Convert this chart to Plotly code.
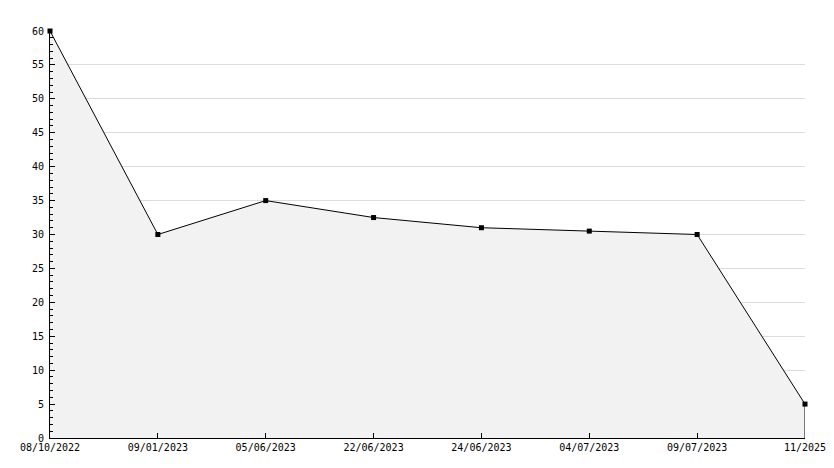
import plotly.graph_objects as go

# ---------------------------------------------------
# Data
# ---------------------------------------------------

DATES = [
    "08/10/2022",
    "09/01/2023",
    "05/06/2023",
    "22/06/2023",
    "24/06/2023",
    "04/07/2023",
    "09/07/2023",
    "11/2025",
]

VALUES = [60, 30, 35, 32.5, 31, 30.5, 30, 5]

Y_TICKS = list(range(0, 61, 5))

FONT = {"family": "DejaVu Sans Mono", "size": 10, "color": "#000000"}

# page body has an 8px margin, so the figure is sized to fit inside 834x468
# ---------------------------------------------------
# Figure
# ---------------------------------------------------

fig = go.Figure()

fig.add_trace(
    go.Scatter(
        x=DATES,
        y=VALUES,
        mode="lines+markers",
        fill="tozeroy",
        fillcolor="#f2f2f2",
        line={"color": "#000000", "width": 1},
        marker={"symbol": "square", "size": 5, "color": "#000000"},
        cliponaxis=False,
        hoverinfo="x+y",
    )
)

# closing edge of the area at the last point
fig.add_shape(
    type="line",
    xref="x",
    yref="y",
    x0=DATES[-1],
    x1=DATES[-1],
    y0=0,
    y1=VALUES[-1],
    line={"color": "#000000", "width": 1},
)

fig.update_layout(
    width=818,
    height=452,
    paper_bgcolor="#ffffff",
    plot_bgcolor="#ffffff",
    font=FONT,
    showlegend=False,
    margin={"l": 42, "r": 21, "t": 23, "b": 22, "autoexpand": False},
)

fig.update_xaxes(
    type="category",
    range=[0, len(DATES) - 1],
    automargin=False,
    showgrid=False,
    zeroline=False,
    showline=True,
    linecolor="#000000",
    linewidth=1,
    ticks="inside",
    ticklen=5,
    tickcolor="#000000",
    tickfont=FONT,
)

fig.update_yaxes(
    range=[0, 60],
    tickvals=Y_TICKS,
    automargin=False,
    showgrid=True,
    gridcolor="#dcdcdc",
    gridwidth=1,
    zeroline=False,
    showline=True,
    linecolor="#000000",
    linewidth=1,
    ticks="inside",
    ticklen=5,
    tickcolor="#000000",
    tickfont=FONT,
    ticklabelstandoff=3,
    minor={"dtick": 1, "ticks": "inside", "ticklen": 3, "tickcolor": "#000000", "showgrid": False},
)

fig.write_html("out.html")
